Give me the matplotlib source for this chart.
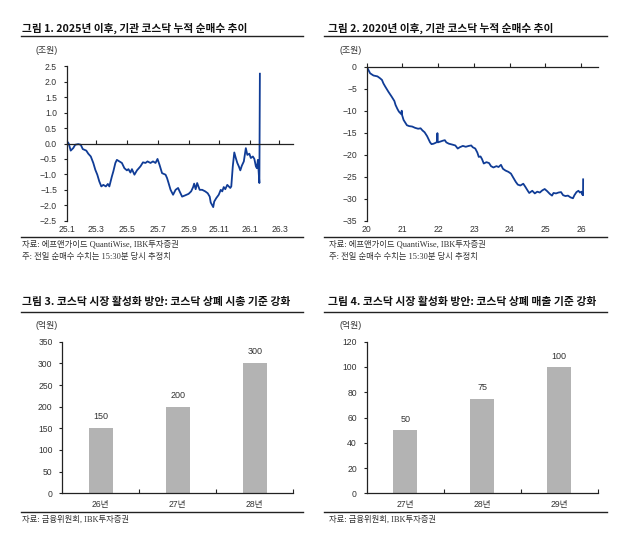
import pandas as pd
import matplotlib.pyplot as plt
from matplotlib.lines import Line2D

plt.rcParams['font.family'] = ['Liberation Sans', 'Noto Sans CJK KR']

# -------------------
# 데이터
# -------------------
# 그림 1: 2025년 이후 기관 코스닥 누적 순매수 (조원)
c1_dates = [
    "2025-01-02", "2025-01-05", "2025-01-09", "2025-01-14", "2025-01-18", "2025-01-24",
    "2025-01-29", "2025-02-02", "2025-02-09", "2025-02-13", "2025-02-18", "2025-02-23",
    "2025-02-27", "2025-03-03", "2025-03-07", "2025-03-11", "2025-03-15", "2025-03-20",
    "2025-03-24", "2025-03-27", "2025-04-01", "2025-04-04", "2025-04-08", "2025-04-11",
    "2025-04-16", "2025-04-21", "2025-04-26", "2025-05-01", "2025-05-04", "2025-05-08",
    "2025-05-11", "2025-05-16", "2025-05-21", "2025-05-28", "2025-06-02", "2025-06-07",
    "2025-06-11", "2025-06-17", "2025-06-22", "2025-06-27", "2025-07-01", "2025-07-05",
    "2025-07-10", "2025-07-17", "2025-07-20", "2025-07-23", "2025-07-27", "2025-08-01",
    "2025-08-06", "2025-08-11", "2025-08-14", "2025-08-19", "2025-08-25", "2025-09-01",
    "2025-09-06", "2025-09-10", "2025-09-12", "2025-09-15", "2025-09-18", "2025-09-23",
    "2025-09-28", "2025-10-04", "2025-10-09", "2025-10-13", "2025-10-15", "2025-10-20",
    "2025-10-22", "2025-10-26", "2025-10-31", "2025-11-04", "2025-11-07", "2025-11-10",
    "2025-11-13", "2025-11-17", "2025-11-20", "2025-11-23", "2025-11-25", "2025-11-28",
    "2025-12-01", "2025-12-04", "2025-12-07", "2025-12-10", "2025-12-13", "2025-12-16",
    "2025-12-20", "2025-12-24", "2025-12-27", "2025-12-31", "2026-01-03", "2026-01-07",
    "2026-01-10", "2026-01-13", "2026-01-15", "2026-01-17", "2026-01-20", "2026-01-21",
]
c1_vals = [
    0.06, 0.00, -0.23, -0.15, -0.04, -0.02,
    -0.04, -0.18, -0.23, -0.33, -0.42, -0.63,
    -0.85, -1.01, -1.23, -1.39, -1.34, -1.39,
    -1.31, -1.39, -1.07, -0.90, -0.63, -0.53,
    -0.58, -0.63, -0.80, -0.87, -0.83, -0.94,
    -0.83, -1.01, -0.87, -0.74, -0.61, -0.63,
    -0.58, -0.63, -0.58, -0.63, -0.50, -0.69,
    -0.96, -1.01, -1.12, -1.28, -1.50, -1.66,
    -1.50, -1.44, -1.55, -1.72, -1.68, -1.63,
    -1.55, -1.41, -1.30, -1.48, -1.28, -1.50,
    -1.50, -1.55, -1.61, -1.72, -1.91, -2.06,
    -1.88, -1.77, -1.66, -1.50, -1.55, -1.41,
    -1.48, -1.34, -1.39, -1.44, -1.39, -0.74,
    -0.29, -0.47, -0.63, -0.74, -0.87, -0.72,
    -0.58, -0.15, -0.37, -0.33, -0.47, -0.42,
    -0.50, -0.74, -0.80, -0.53, -1.28, 2.26,
]
c1_xticks = ["2025-01-01", "2025-03-01", "2025-05-01", "2025-07-01",
             "2025-09-01", "2025-11-01", "2026-01-01", "2026-03-01"]
c1_xlabels = ["25.1", "25.3", "25.5", "25.7", "25.9", "25.11", "26.1", "26.3"]
c1_yticks = [2.5, 2.0, 1.5, 1.0, 0.5, 0.0, -0.5, -1.0, -1.5, -2.0, -2.5]

# 그림 2: 2020년 이후 기관 코스닥 누적 순매수 (조원)
c2_dates = [
    "2020-01-02", "2020-01-20", "2020-02-05", "2020-03-10", "2020-04-20", "2020-05-15",
    "2020-06-05", "2020-06-20", "2020-07-08", "2020-08-10", "2020-09-12", "2020-10-10",
    "2020-10-22", "2020-11-10", "2020-11-25", "2020-12-20", "2020-12-24", "2020-12-28",
    "2021-01-12", "2021-02-15", "2021-03-10", "2021-04-10", "2021-05-10", "2021-06-10",
    "2021-07-05", "2021-07-25", "2021-08-15", "2021-09-10", "2021-09-25", "2021-10-10",
    "2021-10-25", "2021-11-15", "2021-12-05", "2021-12-20", "2021-12-24", "2021-12-28",
    "2022-01-25", "2022-02-20", "2022-03-10", "2022-03-25", "2022-04-20", "2022-05-25",
    "2022-06-25", "2022-07-20", "2022-08-10", "2022-09-10", "2022-10-10", "2022-11-10",
    "2022-12-05", "2022-12-20", "2023-01-15", "2023-02-05", "2023-02-20", "2023-03-10",
    "2023-03-25", "2023-04-12", "2023-05-10", "2023-06-05", "2023-06-25", "2023-07-20",
    "2023-08-20", "2023-09-10", "2023-10-05", "2023-10-25", "2023-11-20", "2023-12-20",
    "2024-01-15", "2024-02-10", "2024-03-05", "2024-03-25", "2024-04-20", "2024-05-20",
    "2024-06-10", "2024-07-05", "2024-07-20", "2024-08-20", "2024-09-15", "2024-10-10",
    "2024-11-05", "2024-12-01", "2024-12-25", "2025-01-20", "2025-02-15", "2025-03-10",
    "2025-03-25", "2025-04-20", "2025-05-15", "2025-06-10", "2025-07-01", "2025-07-25",
    "2025-08-20", "2025-09-15", "2025-10-10", "2025-10-25", "2025-11-15", "2025-12-05",
    "2025-12-20", "2026-01-05", "2026-01-15", "2026-01-19", "2026-01-21", "2026-01-22",
]
c2_vals = [
    0.0, -0.8, -1.5, -2.0, -2.2, -2.6,
    -3.0, -3.8, -4.5, -5.7, -6.8, -7.8,
    -8.7, -9.6, -10.2, -10.8, -10.0, -11.0,
    -12.1, -13.3, -13.5, -13.6, -13.9, -14.1,
    -14.0, -14.5, -14.9, -15.8, -16.5, -17.2,
    -17.6, -17.5, -17.3, -17.1, -15.1, -17.2,
    -17.0, -16.8, -16.7, -17.2, -17.5, -17.7,
    -17.9, -18.6, -18.3, -18.0, -18.2, -18.0,
    -17.9, -18.3, -18.6, -19.5, -20.5, -20.4,
    -21.0, -22.0, -21.7, -21.9, -22.6, -22.9,
    -22.6, -22.8, -22.3, -23.2, -23.6, -23.9,
    -24.3, -25.3, -26.2, -26.8, -27.0, -26.6,
    -27.3, -28.2, -28.7, -28.2, -28.8, -28.4,
    -28.6, -28.1, -27.8, -28.3, -28.9, -29.3,
    -28.7, -28.8, -28.6, -28.5, -29.2, -29.4,
    -29.3, -29.7, -29.9, -29.2, -28.5, -28.2,
    -28.6, -28.4, -29.1, -28.8, -29.2, -25.6,
]
c2_xticks = ["2020-01-01", "2021-01-01", "2022-01-01", "2023-01-01",
             "2024-01-01", "2025-01-01", "2026-01-01"]
c2_xlabels = ["20", "21", "22", "23", "24", "25", "26"]
c2_yticks = [0, -5, -10, -15, -20, -25, -30, -35]

# 그림 3: 코스닥 상폐 시총 기준 (억원)
c3_cats = ["26년", "27년", "28년"]
c3_vals = [150, 200, 300]
c3_yticks = [0, 50, 100, 150, 200, 250, 300, 350]

# 그림 4: 코스닥 상폐 매출 기준 (억원)
c4_cats = ["27년", "28년", "29년"]
c4_vals = [50, 75, 100]
c4_yticks = [0, 20, 40, 60, 80, 100, 120]

# -------------------
# 레이아웃 (픽셀 기준)
# -------------------
W, H = 632, 553
fig = plt.figure(figsize=(W / 100, H / 100), dpi=100)

LINE_C = "#103c96"
BAR_C = "#b3b3b3"
TXT_C = "#333333"
TITLE_FONT = ["Noto Sans CJK KR", "DejaVu Sans"]
SRC_FONT = ["Liberation Serif", "Noto Sans CJK KR"]


def px_axes(x0, y0, x1, y1):
    return fig.add_axes([x0 / W, 1 - y1 / H, (x1 - x0) / W, (y1 - y0) / H])


def hline(x0, x1, y):
    fig.add_artist(Line2D([x0 / W, x1 / W], [1 - y / H, 1 - y / H],
                          color="#222222", lw=1.0))


def ftext(x, y, s, **kw):
    fig.text(x / W, 1 - y / H, s, va="center", ha="left", **kw)


def fmt_minus(v, fmt):
    return (fmt % v).replace("-", "\u2212")


def style_y(ax, ticks, labels):
    ax.set_yticks(ticks)
    ax.set_yticklabels(labels)
    ax.tick_params(axis="y", direction="out", length=2, width=0.8,
                   pad=5, labelsize=6.2, labelcolor=TXT_C, color="#222222")
    ax.spines["left"].set_linewidth(0.9)
    ax.spines["left"].set_color("#222222")
    for s in ["top", "right"]:
        ax.spines[s].set_visible(False)


def line_panel(ax, dates, vals, xticks, xlabels, yticks, ylabels, ylim, xlim, pad):
    ax.plot(pd.to_datetime(dates), vals, color=LINE_C, linewidth=1.3)
    ax.set_ylim(*ylim)
    ax.set_xlim(pd.to_datetime(xlim[0]), pd.to_datetime(xlim[1]))
    style_y(ax, yticks, ylabels)
    ax.spines["bottom"].set_position(("data", 0))
    ax.spines["bottom"].set_linewidth(0.9)
    ax.spines["bottom"].set_color("#222222")
    ax.set_xticks(pd.to_datetime(xticks))
    ax.set_xticklabels(xlabels)
    ax.tick_params(axis="x", direction="in", length=3, width=0.8,
                   pad=pad, labelsize=6.2, labelcolor=TXT_C, color="#222222")


def bar_panel(ax, cats, vals, yticks, ymax, off):
    xs = list(range(len(cats)))
    ax.bar(xs, vals, width=0.31, color=BAR_C)
    ax.set_xlim(-0.5, len(cats) - 0.5)
    ax.set_ylim(0, ymax)
    style_y(ax, yticks, [str(t) for t in yticks])
    ax.spines["bottom"].set_linewidth(0.9)
    ax.spines["bottom"].set_color("#222222")
    ax.set_xticks(xs)
    ax.set_xticklabels(cats)
    ax.set_xticks([x + 0.5 for x in xs], minor=True)
    ax.tick_params(axis="x", which="major", length=0, pad=4.5,
                   labelsize=6.2, labelcolor=TXT_C)
    ax.tick_params(axis="x", which="minor", direction="in", length=3,
                   width=0.8, color="#222222")
    for x, v in zip(xs, vals):
        ax.annotate(str(v), (x, v), xytext=(0, off), textcoords="offset points",
                    ha="center", va="center", fontsize=6.5, color=TXT_C)


# -------------------
# 그림 1
# -------------------
ftext(22, 28, "그림 1. 2025년 이후, 기관 코스닥 누적 순매수 추이",
      fontsize=7.7, fontweight="bold", family=TITLE_FONT, color="#111111")
hline(20.7, 302.7, 36)
ftext(35, 50.5, "(조원)", fontsize=6.4, color=TXT_C)
ax1 = px_axes(66.7, 66.3, 293, 220.7)
line_panel(ax1, c1_dates, c1_vals, c1_xticks, c1_xlabels,
           c1_yticks, [fmt_minus(v, "%.1f") for v in c1_yticks],
           (-2.5, 2.5), ("2025-01-01", "2026-03-28"), 58.5)
hline(20.7, 302.7, 237.3)
ftext(22.5, 244.5, "자료: 에프앤가이드 QuantiWise, IBK투자증권",
      fontsize=6.0, family=SRC_FONT, color=TXT_C)
ftext(22.5, 256.5, "주: 전일 순매수 수치는 15:30분 당시 추정치",
      fontsize=6.0, family=SRC_FONT, color=TXT_C)

# -------------------
# 그림 2
# -------------------
ftext(328, 28, "그림 2. 2020년 이후, 기관 코스닥 누적 순매수 추이",
      fontsize=7.7, fontweight="bold", family=TITLE_FONT, color="#111111")
hline(324, 606.7, 36)
ftext(339, 50.5, "(조원)", fontsize=6.4, color=TXT_C)
ax2 = px_axes(366.7, 66.7, 597.7, 220.7)
line_panel(ax2, c2_dates, c2_vals, c2_xticks, c2_xlabels,
           c2_yticks, [fmt_minus(v, "%d") for v in c2_yticks],
           (-35, 0), ("2020-01-01", "2026-06-20"), 114)
hline(324, 606.7, 237.3)
ftext(328.7, 244.5, "자료: 에프앤가이드 QuantiWise, IBK투자증권",
      fontsize=6.0, family=SRC_FONT, color=TXT_C)
ftext(328.7, 256.5, "주: 전일 순매수 수치는 15:30분 당시 추정치",
      fontsize=6.0, family=SRC_FONT, color=TXT_C)

# -------------------
# 그림 3
# -------------------
ftext(22, 301.5, "그림 3. 코스닥 시장 활성화 방안: 코스닥 상폐 시총 기준 강화",
      fontsize=7.8, fontweight="bold", family=TITLE_FONT, color="#111111")
hline(20.7, 302.7, 311.7)
ftext(35, 326, "(억원)", fontsize=6.4, color=TXT_C)
ax3 = px_axes(62.3, 341.7, 293.3, 493.3)
bar_panel(ax3, c3_cats, c3_vals, c3_yticks, 350, 8.3)
hline(20.7, 302.7, 512.3)
ftext(22.5, 519.3, "자료: 금융위원회, IBK투자증권",
      fontsize=6.0, family=SRC_FONT, color=TXT_C)

# -------------------
# 그림 4
# -------------------
ftext(328, 301.5, "그림 4. 코스닥 시장 활성화 방안: 코스닥 상폐 매출 기준 강화",
      fontsize=7.8, fontweight="bold", family=TITLE_FONT, color="#111111")
hline(324, 606.7, 311.7)
ftext(339, 326, "(억원)", fontsize=6.4, color=TXT_C)
ax4 = px_axes(366.7, 341.7, 597.7, 493.3)
bar_panel(ax4, c4_cats, c4_vals, c4_yticks, 120, 7.8)
hline(324, 606.7, 512.3)
ftext(328.7, 519.3, "자료: 금융위원회, IBK투자증권",
      fontsize=6.0, family=SRC_FONT, color=TXT_C)

fig.savefig("out.png", dpi=100, facecolor="white")
plt.close(fig)
